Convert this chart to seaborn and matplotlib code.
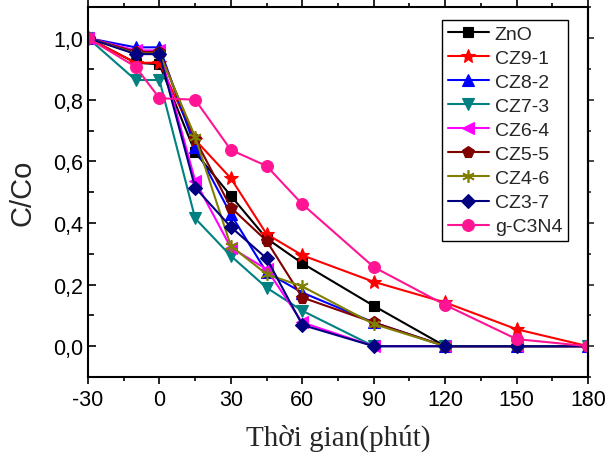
import numpy as np
import pandas as pd
import matplotlib
matplotlib.use("Agg")
import matplotlib.pyplot as plt
import seaborn as sns
from matplotlib.ticker import MultipleLocator, FuncFormatter

time = [-30, -10, 0, 15, 30, 45, 60, 90, 120, 150, 180]
series_names = ["ZnO", "CZ9-1", "CZ8-2", "CZ7-3", "CZ6-4", "CZ5-5", "CZ4-6", "CZ3-7", "g-C3N4"]
zno    = [1.0, 0.92, 0.915, 0.629, 0.488, 0.35, 0.269, 0.131, 0.0, 0.0, 0.0]
cz9_1  = [1.0, 0.92, 0.92, 0.67, 0.545, 0.364, 0.295, 0.209, 0.142, 0.055, 0.0]
cz8_2  = [1.0, 0.97, 0.97, 0.646, 0.428, 0.24, 0.174, 0.077, 0.0, 0.0, 0.0]
cz7_3  = [1.0, 0.864, 0.864, 0.415, 0.293, 0.19, 0.115, 0.0, 0.0, 0.0, 0.0]
cz6_4  = [1.0, 0.96, 0.96, 0.537, 0.32, 0.25, 0.077, 0.0, 0.0, 0.0, 0.0]
cz5_5  = [1.0, 0.955, 0.955, 0.672, 0.45, 0.342, 0.158, 0.077, 0.0, 0.0, 0.0]
cz4_6  = [1.0, 0.95, 0.95, 0.68, 0.325, 0.234, 0.194, 0.072, 0.0, 0.0, 0.0]
cz3_7  = [1.0, 0.948, 0.948, 0.515, 0.387, 0.285, 0.069, 0.0, 0.0, 0.0, 0.0]
gc3n4  = [1.0, 0.907, 0.805, 0.80, 0.637, 0.585, 0.461, 0.257, 0.134, 0.023, 0.0]
values = [zno, cz9_1, cz8_2, cz7_3, cz6_4, cz5_5, cz4_6, cz3_7, gc3n4]

colors = ["#000000", "#FF0000", "#0000FF", "#008080", "#FF00FF", "#800000", "#808000", "#000080", "#FF1493"]
markers = ["s", "*", "^", "v", "<", "p", (6, 2, 0), "D", "o"]
msizes = [7, 10, 8, 8, 8, 8.5, 9, 7, 8.5]

sns.set_style("white")
plt.rcParams['font.family'] = ['Liberation Sans', 'DejaVu Sans']
plt.rcParams['axes.unicode_minus'] = False

fig = plt.figure(figsize=(6.09, 4.60), dpi=100)
ax = fig.add_axes([88/609, 1-378/460, 500/609, (378-8.3)/460])

df = pd.DataFrame({name: v for name, v in zip(series_names, values)})
df["t"] = time
for name, c, m, ms in zip(series_names, colors, markers, msizes):
    sns.lineplot(data=df, x="t", y=name, ax=ax, color=c, marker=m, markersize=ms,
                 markeredgecolor=c, markeredgewidth=1.2 if m == (6, 2, 0) else 0.8,
                 linewidth=1.5, label=name)

ax.set_xlim(-30, 180)
ax.set_ylim(-0.1, 1.1)
ax.xaxis.set_major_locator(MultipleLocator(30))
ax.xaxis.set_minor_locator(MultipleLocator(15))
ax.yaxis.set_major_locator(MultipleLocator(0.2))
ax.yaxis.set_minor_locator(MultipleLocator(0.1))
ax.yaxis.set_major_formatter(FuncFormatter(lambda v, p: f"{v:.1f}".replace(".", ",")))

for s in ax.spines.values():
    s.set_linewidth(1.5)
    s.set_color("black")

ax.tick_params(axis="x", which="both", direction="out", bottom=True, top=True,
               labelsize=15.5, width=1.2, colors="black")
ax.tick_params(axis="x", which="major", length=5)
ax.tick_params(axis="x", which="minor", length=3)
ax.tick_params(axis="y", which="both", direction="in", left=True, right=False,
               labelsize=15.5, width=1.2, colors="black")
ax.tick_params(axis="y", which="major", length=6)
ax.tick_params(axis="y", which="minor", length=4)

sec = ax.secondary_yaxis("right")
sec.yaxis.set_major_locator(MultipleLocator(0.2))
sec.yaxis.set_minor_locator(MultipleLocator(0.1))
sec.tick_params(which="both", direction="out", labelright=False, width=1.2)
sec.tick_params(which="major", length=4)
sec.tick_params(which="minor", length=2.5)
sec.spines["right"].set_linewidth(1.5)

ax.set_xlabel("Thời gian(phút)", family=["Liberation Serif", "DejaVu Serif"], fontsize=21, labelpad=10)
ax.set_ylabel("C/Co", fontsize=21, labelpad=12)

leg = ax.legend(loc="upper right", bbox_to_anchor=(0.96, 0.9665), borderaxespad=0,
                fontsize=14, frameon=True, fancybox=False, framealpha=1, edgecolor="black",
                handlelength=2.1, handletextpad=0.3, labelspacing=0.33, borderpad=0.3)
leg.get_frame().set_linewidth(1.0)

fig.savefig("out.png", dpi=100)
